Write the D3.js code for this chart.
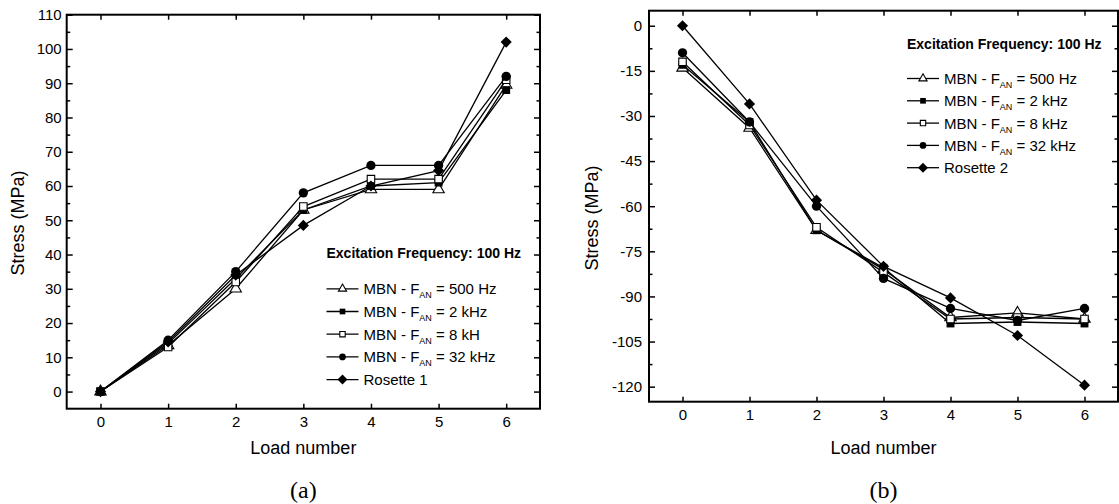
<!DOCTYPE html>
<html>
<head>
<meta charset="utf-8">
<script src="https://cdn.jsdelivr.net/npm/d3@7"></script>
<style>
  body { margin: 0; background: #fff; }
  svg { display: block; font-family: "Liberation Sans", Arial, sans-serif; }
</style>
</head>
<body>
<div id="chart"></div>
<script>
// Load numbers (x axis)
const loads = [0, 1, 2, 3, 4, 5, 6];

// Panel (a) : stresses in MPa
const stressA500 = [0, 13.5, 30, 53, 59, 59, 89.5];
const stressA2k = [0, 14, 33, 53, 60, 61, 88];
const stressA8k = [0, 13, 32, 54, 62, 62, 91];
const stressA32k = [0, 15, 35, 58, 66, 66, 92];
const stressARosette = [0, 14.5, 34, 48.5, 60, 64.5, 102];

// Panel (b) : stresses in MPa
const stressB500 = [-14, -34, -68, -81, -97, -95.5, -97.5];
const stressB2k = [-13, -32, -68, -80.5, -99, -98.5, -99];
const stressB8k = [-12, -33, -67, -82, -97.5, -97, -97.5];
const stressB32k = [-9, -32, -60, -84, -94, -98, -94];
const stressBRosette = [0, -26, -58, -80, -90.5, -103, -119.5];

// Legend labels : [before subscript, subscript, after subscript]
const labelsA = [["MBN - F", "AN", " = 500 Hz"], ["MBN - F", "AN", " = 2 kHz"], ["MBN - F", "AN", " = 8 kH"], ["MBN - F", "AN", " = 32 kHz"], [" Rosette 1", "", ""]];
const labelsB = [["MBN - F", "AN", " = 500 Hz"], ["MBN - F", "AN", " = 2 kHz"], ["MBN - F", "AN", " = 8 kHz"], ["MBN - F", "AN", " = 32 kHz"], ["Rosette 2", "", ""]];
const markerTypes = ["triangle", "fsquare", "osquare", "circle", "diamond"];

// Tick values
const yTicksA = d3.range(0, 111, 10);
const yMinorA = d3.range(5, 110, 10);
const yTicksB = d3.range(-120, 1, 15);
const yMinorB = d3.range(-112.5, 0, 15);

const width = 1119;
const height = 504;

const svg = d3.select("#chart")
    .append("svg")
    .attr("width", width)
    .attr("height", height);

// marker shapes
function drawMarker(sel, type, big) {
    const k = big ? 1 : 0.72;
    if (type === "triangle") {
        sel.append("path").attr("d", d3.symbol(d3.symbolTriangle, 56 * k * k)())
            .attr("fill", "#fff").attr("stroke", "#000").attr("stroke-width", 1.1);
    } else if (type === "fsquare") {
        sel.append("path").attr("d", d3.symbol(d3.symbolSquare, 62 * k * k)())
            .attr("fill", "#000");
    } else if (type === "osquare") {
        sel.append("path").attr("d", d3.symbol(d3.symbolSquare, 56 * k * k)())
            .attr("fill", "#fff").attr("stroke", "#000").attr("stroke-width", 1.1);
    } else if (type === "circle") {
        sel.append("path").attr("d", d3.symbol(d3.symbolCircle, 68 * k * k)())
            .attr("fill", "#000");
    } else {
        sel.append("path").attr("d", d3.symbol(d3.symbolSquare, big ? 62 : 50)())
            .attr("transform", "rotate(45)")
            .attr("fill", "#000");
    }
}

function drawPanel(p) {
    const x = d3.scaleLinear().domain([-0.5, 6.5]).range([p.left, p.right]);
    const y = d3.scaleLinear().domain(p.yDomain).range([p.bottom, p.top]);
    const g = svg.append("g");
    const fmt = d => String(d);

    // ticks (inward)
    g.append("g").attr("transform", `translate(0,${p.bottom})`)
        .call(d3.axisBottom(x).tickValues(loads).tickSize(-5).tickPadding(8).tickFormat(fmt));
    g.append("g").attr("transform", `translate(0,${p.top})`)
        .call(d3.axisTop(x).tickValues(loads).tickSize(-5).tickFormat(""));
    g.append("g").attr("transform", `translate(${p.left},0)`)
        .call(d3.axisLeft(y).tickValues(p.yTicks).tickSize(-6).tickPadding(p.pad).tickFormat(fmt));
    g.append("g").attr("transform", `translate(${p.left},0)`)
        .call(d3.axisLeft(y).tickValues(p.yMinor).tickSize(-3.5).tickFormat(""));
    g.append("g").attr("transform", `translate(${p.right},0)`)
        .call(d3.axisRight(y).tickValues(p.yTicks).tickSize(-6).tickFormat(""));
    g.append("g").attr("transform", `translate(${p.right},0)`)
        .call(d3.axisRight(y).tickValues(p.yMinor).tickSize(-3.5).tickFormat(""));
    g.selectAll(".domain").remove();
    g.selectAll(".tick line").attr("stroke", "#000").attr("stroke-width", 1.5);
    g.selectAll(".tick text").attr("font-size", 15).attr("fill", "#000")
        .attr("font-family", "Liberation Sans, Arial, sans-serif");

    // frame
    g.append("rect")
        .attr("x", p.left).attr("y", p.top)
        .attr("width", p.right - p.left).attr("height", p.bottom - p.top)
        .attr("fill", "none").attr("stroke", "#000").attr("stroke-width", 2);

    // series
    const line = d3.line().x((d, i) => x(loads[i])).y(d => y(d));
    p.series.forEach((s, si) => {
        g.append("path").attr("d", line(s))
            .attr("fill", "none").attr("stroke", "#000").attr("stroke-width", 1.3);
        s.forEach((v, i) => {
            const m = g.append("g").attr("transform", `translate(${x(loads[i])},${y(v)})`);
            drawMarker(m, markerTypes[si], true);
        });
    });

    // axis titles
    g.append("text")
        .attr("transform", `translate(${p.ylabX},${p.ylabY}) rotate(-90)`)
        .attr("text-anchor", "middle").attr("font-size", 18)
        .text("Stress (MPa)");
    g.append("text")
        .attr("x", (p.left + p.right) / 2).attr("y", 454)
        .attr("text-anchor", "middle").attr("font-size", 18)
        .text("Load number");
    g.append("text")
        .attr("x", (p.left + p.right) / 2).attr("y", 498)
        .attr("text-anchor", "middle").attr("font-size", 24)
        .attr("font-family", "Liberation Serif, Times New Roman, serif")
        .text(p.tag);

    // legend
    g.append("text")
        .attr("x", p.legX).attr("y", p.legTitleY)
        .attr("font-size", 14).attr("font-weight", "bold")
        .text("Excitation Frequency: 100 Hz");
    p.labels.forEach((lab, i) => {
        const by = p.legY0 + i * p.legStep;
        const cy = by - 5.5;
        g.append("line")
            .attr("x1", p.legX).attr("x2", p.legX + 32)
            .attr("y1", cy).attr("y2", cy)
            .attr("stroke", "#000").attr("stroke-width", 1.3);
        const m = g.append("g").attr("transform", `translate(${p.legX + 16},${cy})`);
        drawMarker(m, markerTypes[i], false);
        const t = g.append("text").attr("x", p.legX + 37).attr("y", by).attr("font-size", 15);
        t.append("tspan").text(lab[0]);
        if (lab[1]) {
            t.append("tspan").attr("font-size", 9).attr("dy", 4).text(lab[1]);
            t.append("tspan").attr("dy", -4).text(lab[2]);
        }
    });
}

drawPanel({
    left: 66.7, right: 540, top: 14.7, bottom: 408.7,
    yDomain: [-5, 110], yTicks: yTicksA, yMinor: yMinorA, pad: 5,
    series: [stressA500, stressA2k, stressA8k, stressA32k, stressARosette],
    labels: labelsA, tag: "(a)",
    ylabX: 24, ylabY: 223,
    legX: 326.5, legTitleY: 258, legY0: 294.3, legStep: 22.7
});

drawPanel({
    left: 649, right: 1118, top: 10.7, bottom: 401.7,
    yDomain: [-125, 5], yTicks: yTicksB, yMinor: yMinorB, pad: 7,
    series: [stressB500, stressB2k, stressB8k, stressB32k, stressBRosette],
    labels: labelsB, tag: "(b)",
    ylabX: 598, ylabY: 218,
    legX: 907, legTitleY: 49, legY0: 84, legStep: 22.3
});
</script>
</body>
</html>
